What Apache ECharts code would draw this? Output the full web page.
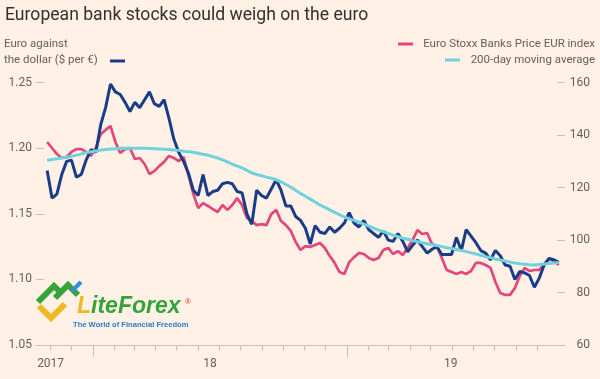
<!DOCTYPE html>
<html><head><meta charset="utf-8">
<script src="https://cdn.jsdelivr.net/npm/echarts@6/dist/echarts.min.js"></script>
<style>html,body{margin:0;padding:0;background:#fff1e5;}#c{width:600px;height:379px;}</style>
</head><body><div id="c"></div>
<script>
const titleText = 'European bank stocks could weigh on the euro';
const leftLegend = ['Euro against', 'the dollar ($ per \u20ac)'];
const seriesNames = ['Euro against the dollar ($ per \u20ac)', 'Euro Stoxx Banks Price EUR index', '200-day moving average'];
const firstWeek = '2017-10-27';
const axisStart = '2017-10-11';
const axisEnd = '2019-11-10';
const euroUsd = [
 1.183,1.162,1.165,1.180,1.190,1.191,1.178,1.180,1.191,1.199,
 1.197,1.218,1.231,1.249,1.243,1.241,1.235,1.228,1.235,1.231,
 1.237,1.243,1.234,1.232,1.237,1.223,1.207,1.197,1.190,1.181,
 1.168,1.164,1.180,1.164,1.167,1.168,1.173,1.174,1.173,1.167,
 1.166,1.150,1.142,1.168,1.164,1.162,1.169,1.176,1.168,1.156,
 1.156,1.148,1.145,1.139,1.127,1.141,1.136,1.135,1.140,1.136,
 1.139,1.143,1.151,1.143,1.140,1.145,1.138,1.135,1.132,1.137,
 1.130,1.129,1.135,1.129,1.121,1.126,1.130,1.125,1.120,1.123,
 1.125,1.119,1.119,1.119,1.132,1.122,1.138,1.133,1.128,1.122,
 1.120,1.115,1.122,1.118,1.111,1.110,1.100,1.106,1.105,1.103,
 1.094,1.101,1.111,1.116,1.115,1.113];
const bankIndex = [
 137.4,135.1,132.8,131.3,131.7,133.6,134.7,134.7,133.6,132.1,
 135.1,140.4,142.0,143.5,137.4,133.2,134.7,135.1,130.9,131.3,
 129.0,125.2,126.3,128.2,129.8,132.1,131.3,130.1,131.7,124.8,
 117.6,112.2,114.1,113.0,111.8,110.7,113.4,111.5,113.4,116.0,
 113.4,108.4,107.3,105.7,106.1,105.7,109.9,111.5,107.3,105.7,
 103.5,99.3,96.2,97.7,97.4,98.1,98.9,97.0,93.9,91.3,
 87.8,87.1,91.6,93.5,95.1,94.7,93.2,92.4,93.2,96.2,
 97.0,94.7,95.8,94.3,97.0,100.0,103.8,102.3,102.7,98.5,
 97.7,93.2,88.6,87.8,87.1,87.8,87.1,88.2,91.3,91.3,
 90.5,89.4,84.0,79.8,79.1,79.1,81.7,86.3,89.4,88.2,
 88.6,88.6,90.9,92.8,92.0,90.5];
const movingAvg = [
 130.4,130.7,131.0,131.3,131.6,131.9,132.4,132.8,133.3,133.7,
 134.0,134.3,134.5,134.7,134.8,135.0,135.0,135.0,135.0,135.0,
 135.0,134.9,134.8,134.7,134.6,134.5,134.3,134.2,133.9,133.7,
 133.5,133.1,132.7,132.4,131.8,131.3,130.6,129.8,129.0,128.2,
 127.5,126.6,125.6,125.0,124.5,124.0,123.6,123.0,122.2,121.2,
 120.2,119.0,117.8,116.7,115.6,114.5,113.4,112.5,111.5,110.6,
 109.7,108.8,108.1,107.5,106.8,106.1,105.3,104.6,103.8,103.2,
 102.5,101.9,101.3,100.7,100.3,99.8,99.4,99.0,98.6,98.2,
 97.9,97.5,97.1,96.8,96.4,96.0,95.6,95.2,94.7,94.2,
 93.7,93.3,92.8,92.4,92.0,91.6,91.3,91.0,90.8,90.6,
 90.5,90.7,90.9,91.1,91.3,91.5];
const leftAxis = {min: 1.05, max: 1.25, interval: 0.05};
const rightAxis = {min: 60, max: 160, interval: 20};
const yearLabels = [['2017-11-01', '2017'], ['2018-06-18', '18'], ['2019-05-30', '19']];
const yearTicks = ['2018-01-01', '2019-01-01'];
const firstMonthTick = '2017-11-01';
const monthTickCount = 24;

const ts = s => { const p = s.split('-').map(Number); return Date.UTC(p[0], p[1] - 1, p[2]); };
const DAY = 86400000;
const dates = euroUsd.map((_, i) => ts(firstWeek) + i * 7 * DAY);
const monthTicks = [];
{ const p = firstMonthTick.split('-').map(Number);
  for (let i = 0; i < monthTickCount; i++) monthTicks.push(Date.UTC(p[0], p[1] - 1 + i, 1)); }
const labelMap = {};
yearLabels.forEach(([d, t]) => { labelMap[ts(d)] = t; });

const INK = '#66605c', LINE = '#cbbfb4';
const BLUE = '#1a3c88', PINK = '#e5457b', CYAN = '#6fd2dc';
const FONT = 'Roboto';

const chart = echarts.init(document.getElementById('c'), null, {renderer: 'canvas'});
chart.setOption({
  backgroundColor: '#fff1e5',
  animation: false,
  grid: {left: 36, right: 35, top: 82.7, bottom: 34, containLabel: false, outerBoundsMode: 'none'},
  xAxis: [{
    type: 'value', min: ts(axisStart), max: ts(axisEnd), position: 'bottom', scale: true,
    axisLine: {show: true, lineStyle: {color: LINE, width: 1}},
    axisTick: {show: true, customValues: monthTicks, length: 6, lineStyle: {color: LINE}},
    axisLabel: {show: true, customValues: yearLabels.map(l => ts(l[0])), margin: 13,
      color: INK, fontFamily: FONT, fontSize: 12, hideOverlap: false,
      formatter: v => labelMap[v] || ''},
    splitLine: {show: false}
  }, {
    type: 'value', min: ts(axisStart), max: ts(axisEnd), position: 'bottom', offset: 0, scale: true,
    axisLine: {show: false},
    axisTick: {show: true, customValues: yearTicks.map(ts), length: 12, lineStyle: {color: LINE}},
    axisLabel: {show: false},
    splitLine: {show: false}
  }],
  yAxis: [{
    type: 'value', position: 'left', min: leftAxis.min, max: leftAxis.max, interval: leftAxis.interval,
    axisLine: {show: false},
    axisTick: {show: true, inside: true, length: 8, lineStyle: {color: LINE}},
    axisLabel: {margin: 4, color: INK, fontFamily: FONT, fontSize: 12, formatter: v => v.toFixed(2)},
    splitLine: {show: false}
  }, {
    type: 'value', position: 'right', min: rightAxis.min, max: rightAxis.max, interval: rightAxis.interval,
    axisLine: {show: false},
    axisTick: {show: true, inside: true, length: 8, lineStyle: {color: LINE}},
    axisLabel: {margin: 25, align: 'right', color: INK, fontFamily: FONT, fontSize: 12},
    splitLine: {show: false}
  }],
  series: [{
    name: seriesNames[1], type: 'line', yAxisIndex: 1, showSymbol: false,
    lineStyle: {color: PINK, width: 2.7}, data: dates.map((d, i) => [d, bankIndex[i]])
  }, {
    name: seriesNames[0], type: 'line', yAxisIndex: 0, showSymbol: false,
    lineStyle: {color: BLUE, width: 3}, data: dates.map((d, i) => [d, euroUsd[i]])
  }, {
    name: seriesNames[2], type: 'line', yAxisIndex: 1, showSymbol: false,
    lineStyle: {color: CYAN, width: 3}, data: dates.map((d, i) => [d, movingAvg[i]])
  }],
  graphic: [
    {type: 'text', x: 5, y: 16, style: {text: titleText, fill: '#33302e', font: '17.6px Roboto', textVerticalAlign: 'middle'}},
    {type: 'text', x: 4, y: 44, style: {text: leftLegend[0], fill: INK, font: '11.5px Roboto', textVerticalAlign: 'middle'}},
    {type: 'text', x: 4, y: 60, style: {text: leftLegend[1], fill: INK, font: '11.5px Roboto', textVerticalAlign: 'middle'}},
    {type: 'line', shape: {x1: 110, y1: 61, x2: 125, y2: 61}, style: {stroke: BLUE, lineWidth: 3}},
    {type: 'text', x: 595, y: 44, style: {text: seriesNames[1], fill: INK, font: '11.5px Roboto', textAlign: 'right', textVerticalAlign: 'middle'}},
    {type: 'line', shape: {x1: 398, y1: 44, x2: 413, y2: 44}, style: {stroke: PINK, lineWidth: 3}},
    {type: 'text', x: 595, y: 60, style: {text: seriesNames[2], fill: INK, font: '11.5px Roboto', textAlign: 'right', textVerticalAlign: 'middle'}},
    {type: 'line', shape: {x1: 445, y1: 60, x2: 460, y2: 60}, style: {stroke: CYAN, lineWidth: 3}},
    {type: 'group', z: 100, children: [
      {type: 'polyline', shape: {points: [[38, 302], [54, 286], [62, 294]]}, style: {stroke: '#37a33b', lineWidth: 6, fill: null, lineJoin: 'miter'}},
      {type: 'polyline', shape: {points: [[55, 298], [68, 285], [78, 295]]}, style: {stroke: '#37a33b', lineWidth: 6, fill: null, lineJoin: 'miter'}},
      {type: 'line', shape: {x1: 72, y1: 291, x2: 81, y2: 282}, style: {stroke: '#2e8fe0', lineWidth: 4}},
      {type: 'polyline', shape: {points: [[39, 306], [51, 318], [65, 304]]}, style: {stroke: '#f1b823', lineWidth: 6, fill: null, lineJoin: 'miter'}},
      {type: 'text', x: 77, y: 318, style: {text: '{a|L}{b|iteForex}', textVerticalAlign: 'bottom',
        rich: {a: {fill: '#f1b823', font: 'italic bold 23px "Liberation Sans"'}, b: {fill: '#37a33b', font: 'italic bold 23px "Liberation Sans"'}}}},
      {type: 'text', x: 185, y: 298, style: {text: '\u00ae', fill: '#e0302f', font: '8px "Liberation Sans"'}},
      {type: 'text', x: 73, y: 324.5, style: {text: 'The World of Financial Freedom', fill: '#2b7bc9', font: 'bold 7.6px "Liberation Sans"', textVerticalAlign: 'middle'}}
    ]}
  ]
});
</script></body></html>
